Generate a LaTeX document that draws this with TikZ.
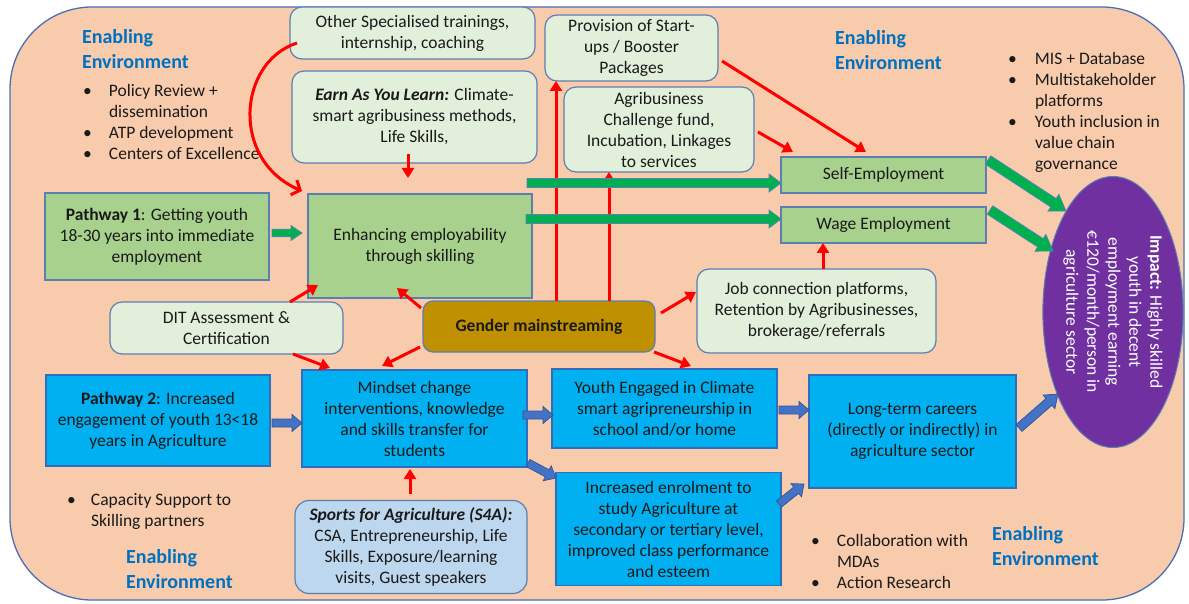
\documentclass[tikz,border=0pt]{standalone}
\usepackage{fontspec}
\setmainfont{Carlito}
\usetikzlibrary{arrows.meta,calc,shapes.geometric}
\definecolor{peach}{HTML}{F8CBAD}
\definecolor{outerline}{HTML}{4A6FB5}
\definecolor{lgreen}{HTML}{E2EFDA}
\definecolor{boxline}{HTML}{5A7FB0}
\definecolor{mgreen}{HTML}{A9D18E}
\definecolor{sky}{HTML}{00B0F0}
\definecolor{blueline}{HTML}{2F6EBA}
\definecolor{gold}{HTML}{BF9000}
\definecolor{paleblue}{HTML}{BDD7EE}
\definecolor{redarrc}{HTML}{FF0000}
\definecolor{impactc}{HTML}{7030A0}
\definecolor{arrgreen}{HTML}{00B050}
\definecolor{arrblue}{HTML}{4472C4}
\definecolor{arrblueline}{HTML}{2F5597}
\definecolor{headblue}{HTML}{0070C0}
\definecolor{txt}{HTML}{1A1A1A}
\newcommand{\blockarrow}[6]{%
  \path[#1] let \p1=(#2), \p2=(#3), \n1={atan2(\y2-\y1,\x2-\x1)}, \n2={veclen(\x2-\x1,\y2-\y1)} in
    [shift={(\p1)}, rotate=\n1]
    (0pt,-#4) -- ({\n2*1pt-#6},-#4) -- ({\n2*1pt-#6},-#5) -- ({\n2*1pt},0pt)
    -- ({\n2*1pt-#6},#5) -- ({\n2*1pt-#6},#4) -- (0pt,#4) -- cycle;
}
\begin{document}
\begin{tikzpicture}[x=1pt,y=-1pt,
  every node/.style={font=\fontsize{17.5}{21}\selectfont, text=txt, inner sep=0pt, outer sep=0pt},
  wh/.style 2 args={minimum width=#1pt, minimum height=#2pt},
  softbox/.style={draw=boxline, line width=1.2pt, fill=lgreen, rounded corners=12pt, align=center},
  greenbox/.style={draw=boxline, line width=1.2pt, fill=mgreen, align=center},
  bluebox/.style={draw=blueline, line width=1.2pt, fill=sky, align=center},
  goldbox/.style={draw=boxline, line width=1.2pt, fill=gold, rounded corners=10pt, align=center},
  s4abox/.style={draw=boxline, line width=1.2pt, fill=paleblue, rounded corners=14pt, align=center},
  heading/.style={font=\fontsize{20}{25}\selectfont\bfseries, text=headblue, anchor=base west},
  bulletlist/.style={anchor=base west},
  redarr/.style={draw=redarrc, line width=3pt, -{Triangle[length=10pt,width=12pt]}},
  redcurve/.style={draw=redarrc, line width=3pt, -{Straight Barb[length=7pt,width=16pt,line width=3pt]}},
  garr/.style={fill=arrgreen, draw=boxline, line width=0.7pt},
  barr/.style={fill=arrblue, draw=arrblueline, line width=0.7pt}
]
\useasboundingbox (0,0) rectangle (1189,604);
\fill[white] (0,0) rectangle (1189,604);
\draw[fill=peach, draw=outerline, line width=1.3pt, rounded corners=82pt] (10,7) rectangle (1184,600);

% headings
\node[heading] (ee1) at (82,43.5) {\begin{tabular}[t]{@{}l@{}}Enabling\\Environment\end{tabular}};
\node[heading] (ee2) at (835,44.5) {\begin{tabular}[t]{@{}l@{}}Enabling\\Environment\end{tabular}};
\node[heading] (ee3) at (126,563) {\begin{tabular}[t]{@{}l@{}}Enabling\\Environment\end{tabular}};
\node[heading] (ee4) at (992,540.5) {\begin{tabular}[t]{@{}l@{}}Enabling\\Environment\end{tabular}};

% bullet lists
\node[bulletlist] (l1) at (83,97) {\begin{tabular}[t]{@{}l@{}l@{}}\makebox[26pt][l]{•} & Policy Review +\\ & dissemination\\ • & ATP development\\ • & Centers of Excellence\end{tabular}};
\node[bulletlist] (l2) at (1008,65) {\begin{tabular}[t]{@{}l@{}l@{}}\makebox[27pt][l]{•} & MIS + Database\\ • & Multistakeholder\\ & platforms\\ • & Youth inclusion in\\ & value chain\\ & governance\end{tabular}};
\node[bulletlist] (l3) at (67,505) {\begin{tabular}[t]{@{}l@{}l@{}}\makebox[24pt][l]{•} & Capacity Support to\\ & Skilling partners\end{tabular}};
\node[bulletlist] (l4) at (811,546) {\begin{tabular}[t]{@{}l@{}l@{}}\makebox[26pt][l]{•} & Collaboration with\\ & MDAs\\ • & Action Research\end{tabular}};

% boxes
\node[softbox, wh={245}{52}] (other) at (412.5,33) {Other Specialised trainings,\\internship, coaching};
\node[softbox, wh={245}{92}] (earn) at (414.5,117) {\textbf{\textit{Earn As You Learn:}} Climate-\\smart agribusiness methods,\\Life Skills,};
\node[softbox, wh={173}{66}] (prov) at (631.5,48) {Provision of Start-\\ups / Booster\\Packages};
\node[softbox, wh={190}{85}] (agri) at (659,129.5) {Agribusiness\\Challenge fund,\\Incubation, Linkages\\to services};
\node[greenbox, wh={205}{36}] (self) at (883.5,175) {Self-Employment};
\node[greenbox, wh={205}{36}] (wage) at (883.5,225) {Wage Employment};
\node[greenbox, wh={224}{87}] (path1) at (157,236.5) {\textbf{Pathway 1}: Getting youth\\18-30 years into immediate\\employment};
\node[greenbox, wh={224}{104}] (enh) at (420,246) {Enhancing employability\\through skilling};
\node[softbox, wh={233}{52}] (dit) at (226.5,328) {DIT Assessment \&\\Certification};
\node[goldbox, wh={232}{51}] (gender) at (539,326.5) {\textbf{Gender mainstreaming}};
\node[softbox, wh={239}{84}] (job) at (816.5,311) {Job connection platforms,\\Retention by Agribusinesses,\\brokerage/referrals};
\node[bluebox, wh={224}{91}] (path2) at (158,420.5) {\textbf{Pathway 2}: Increased\\engagement of youth 13<18\\years in Agriculture};
\node[bluebox, wh={225}{97}] (mind) at (414.5,418.5) {Mindset change\\interventions, knowledge\\and skills transfer for\\students};
\node[s4abox, wh={232}{93}] (s4a) at (411,547) {\textbf{\textit{Sports for Agriculture (S4A):}}\\CSA, Entrepreneurship, Life\\Skills, Exposure/learning\\visits, Guest speakers};
\node[bluebox, wh={225}{79}] (youth) at (664.5,408.5) {Youth Engaged in Climate\\smart agripreneurship in\\school and/or home};
\node[bluebox, wh={207}{113}] (long) at (912.5,431.5) {Long-term careers\\(directly or indirectly) in\\agriculture sector};
\node[bluebox, wh={225}{113}] (incr) at (668.5,529) {Increased enrolment to\\study Agriculture at\\secondary or tertiary level,\\improved class performance\\and esteem};
\node[ellipse, draw=boxline, line width=1pt, fill=impactc, rotate=-90, minimum width=271pt, minimum height=135pt, align=center, text=white] (impact) at (1113,312) {\textbf{Impact:} Highly skilled\\youth in decent\\employment earning\\€120/month/person in\\agriculture sector};

% red arrows
\draw[redcurve] (297,43) .. controls (238,62) and (230,160) .. (302,191);
\draw[redarr] (408,154) -- (408,178);
\draw[redarr] (722,61) -- (866,152);
\draw[redarr] (758,132) -- (793,152);
\draw[redarr] (556,301) -- (556,81);
\draw[redarr] (609,301) -- (609,172);
\draw[redarr] (823,269) -- (823,243);
\draw[redarr] (661,313) -- (696,292);
\draw[redarr] (654,352) -- (691,366);
\draw[redarr] (421,308) -- (397,288);
\draw[redarr] (420,347) -- (382,366);
\draw[redarr] (290,302) -- (318,285);
\draw[redarr] (293,354) -- (330,368);
\draw[redarr] (410,494) -- (410,469);

% green block arrows
\blockarrow{garr}{272,233}{302,233}{3.8pt}{7.5pt}{11pt}
\blockarrow{garr}{527,183}{781,183}{4.5pt}{9pt}{12pt}
\blockarrow{garr}{526,219}{781,219}{4.5pt}{9pt}{12pt}
\blockarrow{garr}{988,160}{1066,211}{5pt}{10pt}{15pt}
\blockarrow{garr}{990,210}{1053,251}{5pt}{10pt}{15pt}

% blue block arrows
\blockarrow{barr}{272,423}{302,423}{4pt}{8.5pt}{10pt}
\blockarrow{barr}{523,415}{553,415}{4pt}{8.5pt}{10pt}
\blockarrow{barr}{528,463}{556,478}{4pt}{8.5pt}{10pt}
\blockarrow{barr}{779,410}{809,410}{4pt}{8.5pt}{10pt}
\blockarrow{barr}{779,504}{804,484}{4pt}{8.5pt}{10pt}
\blockarrow{barr}{1019,428}{1058,394}{4.5pt}{9pt}{12pt}
\end{tikzpicture}
\end{document}
